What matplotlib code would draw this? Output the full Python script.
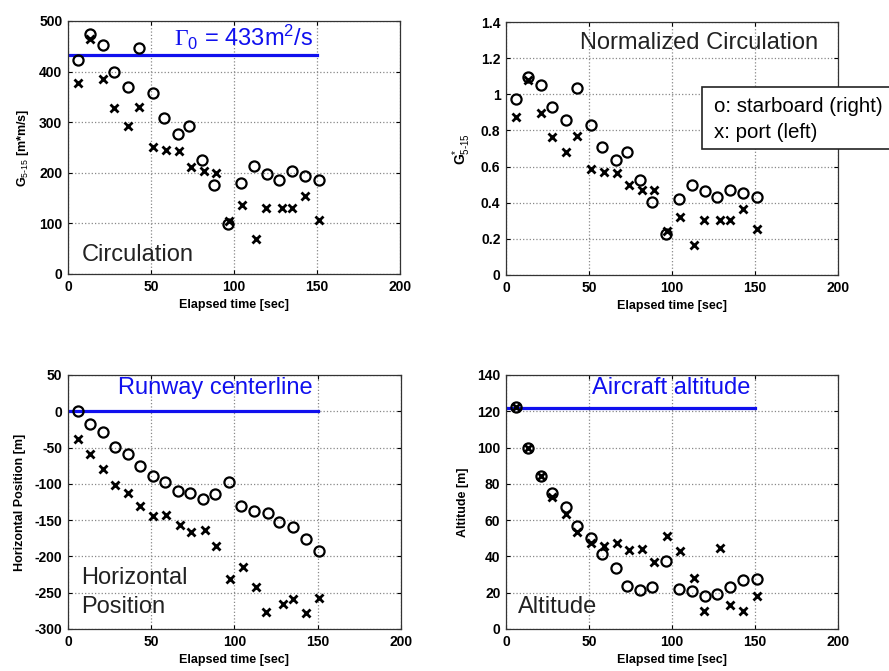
import matplotlib
matplotlib.use("Agg")
import matplotlib.pyplot as plt
from matplotlib.patches import Rectangle

plt.rcParams['font.family'] = ['Liberation Sans', 'DejaVu Sans']
plt.rcParams['mathtext.fontset'] = 'custom'
plt.rcParams['mathtext.rm'] = 'Liberation Serif'
plt.rcParams['mathtext.sf'] = 'Liberation Sans'
plt.rcParams['mathtext.it'] = 'Liberation Sans'
plt.rcParams['mathtext.bf'] = 'Liberation Sans:bold'

# ---------------- data ----------------
t_circ = [6, 13, 21, 28, 36, 43, 51, 58, 66, 73, 81, 88, 96.5, 104, 112, 120, 127, 135, 143, 151]
t_x = [6, 13, 21, 28, 36, 43, 51, 59, 67, 74, 82, 89, 97, 105, 113, 119, 129, 135, 143, 151]

circ_star = [422, 474, 453, 399, 369, 446, 357, 308, 276, 293, 225, 175, 99, 179, 214, 198, 185, 203, 193, 186]
circ_port = [378, 464, 385, 329, 292, 331, 251, 245, 243, 212, 203, 199, 105, 136, 69, 130, 130, 130, 154, 107]

norm_star = [0.976, 1.098, 1.05, 0.928, 0.858, 1.035, 0.831, 0.711, 0.637, 0.680, 0.523, 0.405, 0.228, 0.418, 0.497, 0.466, 0.433, 0.473, 0.451, 0.433]
norm_port = [0.877, 1.079, 0.895, 0.763, 0.681, 0.770, 0.586, 0.569, 0.567, 0.497, 0.472, 0.468, 0.243, 0.320, 0.164, 0.306, 0.306, 0.306, 0.363, 0.252]

hpos_star = [0, -18, -29, -49, -59, -75, -89, -97, -110, -113, -121, -114, -98, -130, -138, -140, -153, -160, -176, -192]
hpos_port = [-38, -59, -79, -102, -112, -130, -144, -143, -157, -167, -164, -185, -231, -215, -242, -277, -266, -259, -278, -257]

alt_star = [122.5, 99.9, 84.3, 75.2, 67.2, 56.5, 50.4, 41.6, 33.7, 23.9, 21.5, 23.2, 37.7, 22.1, 21.0, 18.4, 19.5, 23.2, 26.9, 27.6]
alt_port = [122.5, 99.9, 84.3, 72.5, 63.3, 53.5, 47.5, 45.6, 47.3, 43.8, 44.3, 37.0, 51.1, 42.9, 28.3, 9.9, 44.7, 13.1, 9.9, 18.4]

gamma0 = 433
centerline = 0
aircraft_alt = 122
ref_t = [0, 150]

xticks = [0, 50, 100, 150, 200]

W, H = 889, 671
fig = plt.figure(figsize=(W / 100, H / 100), dpi=100)

def ax_at(l, t, r, b):
    return fig.add_axes([l / W, 1 - b / H, (r - l) / W, (b - t) / H])

tick_font = dict(family=['Liberation Sans Narrow', 'Liberation Sans'], weight='bold', size=10)
lab_font = dict(family=['Liberation Sans Narrow', 'Liberation Sans'], weight='bold', size=9)

def style(ax, ylim, yticks, ylabel, ylsize=9):
    ax.set_xlim(0, 200)
    ax.set_ylim(*ylim)
    ax.set_xticks(xticks)
    ax.set_yticks(yticks)
    ax.set_xticklabels([str(v) for v in xticks], **tick_font)
    ax.set_yticklabels([f"{v:g}" for v in yticks], **tick_font)
    ax.grid(True, linestyle=':', color='#888888', linewidth=0.9)
    ax.tick_params(direction='in', top=True, right=True, length=3, width=0.8, pad=4)
    for s in ax.spines.values():
        s.set_linewidth(0.9)
        s.set_color('#333333')
    ax.set_xlabel('Elapsed time [sec]', labelpad=4, **lab_font)
    yf = dict(lab_font)
    yf['size'] = ylsize
    ax.set_ylabel(ylabel, labelpad=6, **yf)

def scatter(ax, ys, yx):
    ax.plot(t_circ, ys, linestyle='none', marker='o', markersize=7.3, markerfacecolor='none',
            markeredgecolor='black', markeredgewidth=1.6, zorder=3)
    ax.plot(t_x, yx, linestyle='none', marker='x', markersize=5.5, markeredgecolor='black',
            markeredgewidth=2.0, zorder=3)

blue = '#1010ee'
big = 17

# Top-left: Circulation
ax1 = ax_at(68, 21, 400, 274)
ax1.plot(ref_t, [gamma0, gamma0], color=blue, linewidth=2.3, zorder=2)
scatter(ax1, circ_star, circ_port)
style(ax1, (0, 500), [0, 100, 200, 300, 400, 500], 'G$_{\\mathsf{5\u201015}}$ [m*m/s]')
ax1.text(148, 467, r'$\Gamma_{\mathsf{0}}$ = 433m$^{\mathsf{2}}$/s', color=blue, fontsize=big,
         ha='right', va='center')
ax1.text(8.4, 37, 'Circulation', fontsize=big, ha='left', va='center', color='#222222')

# Top-right: Normalized circulation
ax2 = ax_at(506, 22, 838, 275)
scatter(ax2, norm_star, norm_port)
style(ax2, (0, 1.4), [0, 0.2, 0.4, 0.6, 0.8, 1.0, 1.2, 1.4],
      'G$^{\\mathsf{*}}_{\\mathsf{5\u201015}}$', ylsize=10)
ax2.text(44.6, 1.284, 'Normalized Circulation', fontsize=big, ha='left', va='center', color='#222222')

# legend box (extends past the right edge)
fig.patches.append(Rectangle((702 / W, 1 - 149 / H), 200 / W, 62 / H, transform=fig.transFigure,
                             facecolor='white', edgecolor='#222222', linewidth=1.2, zorder=5))
fig.text(714 / W, 1 - 106 / H, 'o: starboard (right)', fontsize=14.8, ha='left', va='center', zorder=6)
fig.text(714 / W, 1 - 132 / H, 'x: port (left)', fontsize=14.8, ha='left', va='center', zorder=6)

# Bottom-left: Horizontal position
ax3 = ax_at(68, 375, 401, 629)
ax3.plot(ref_t, [centerline, centerline], color=blue, linewidth=2.3, zorder=2)
scatter(ax3, hpos_star, hpos_port)
style(ax3, (-300, 50), [-300, -250, -200, -150, -100, -50, 0, 50], 'Horizontal Position [m]')
ax3.text(30, 32, 'Runway centerline', color=blue, fontsize=big, ha='left', va='center')
ax3.text(7.8, -229.7, 'Horizontal', fontsize=big, ha='left', va='center', color='#222222')
ax3.text(7.8, -269.6, 'Position', fontsize=big, ha='left', va='center', color='#222222')

# Bottom-right: Altitude
ax4 = ax_at(506, 375, 838, 629)
ax4.plot(ref_t, [aircraft_alt, aircraft_alt], color=blue, linewidth=2.3, zorder=2)
scatter(ax4, alt_star, alt_port)
style(ax4, (0, 140), [0, 20, 40, 60, 80, 100, 120, 140], 'Altitude [m]')
ax4.text(51.8, 132.8, 'Aircraft altitude', color=blue, fontsize=big, ha='left', va='center')
ax4.text(7.2, 12.1, 'Altitude', fontsize=big, ha='left', va='center', color='#222222')

fig.savefig('out.png', dpi=100)
